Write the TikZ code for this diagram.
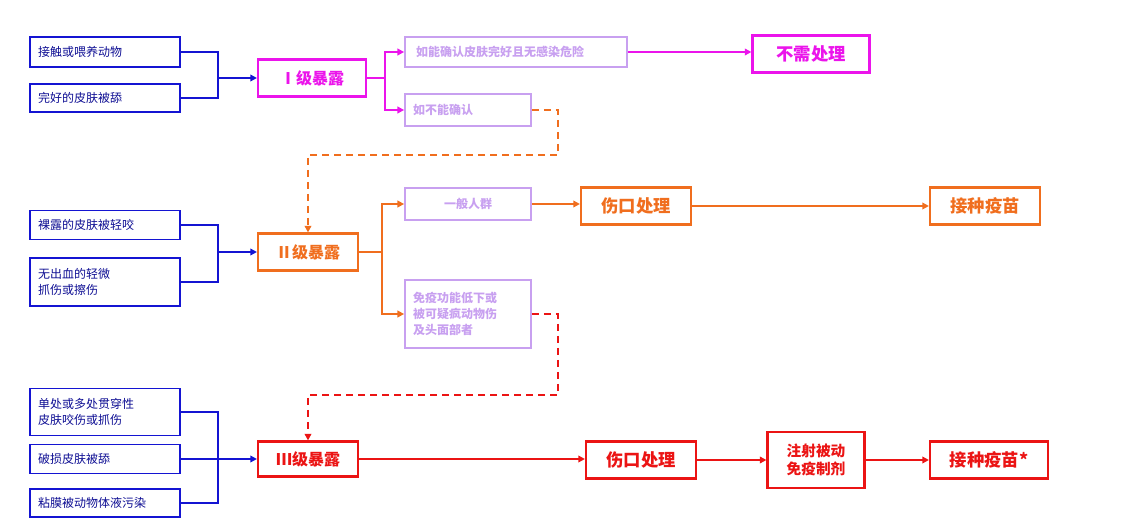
\documentclass[tikz,border=0pt]{standalone}
\usepackage{fontspec}
\setmainfont{Noto Sans CJK SC}
\usetikzlibrary{arrows.meta, positioning}
\definecolor{cblue}{RGB}{20,20,210}
\definecolor{cmag}{RGB}{235,20,235}
\definecolor{corange}{RGB}{240,110,30}
\definecolor{cred}{RGB}{235,20,20}
\definecolor{cpurple}{RGB}{200,160,240}
\tikzset{
  cause/.style={draw=cblue, line width=1.3pt, text=cblue!70!black, font=\fontsize{9}{12}\selectfont,
    align=left, text width=134*0.75pt, inner sep=0pt, minimum width=150*0.75pt},
  level/.style={draw=#1, line width=1.6pt, text=#1, font=\fontsize{12}{14}\selectfont\bfseries,
    minimum height=37*0.75pt, inner sep=2pt},
  cond/.style={draw=cpurple, line width=1.3pt, text=cpurple, font=\fontsize{9}{12}\selectfont\bfseries,
    align=left, inner sep=0pt},
  step/.style={draw=#1, line width=1.6pt, text=#1, font=\fontsize{13}{16}\selectfont\bfseries,
    minimum height=37*0.75pt, minimum width=110*0.75pt, align=center, inner sep=1pt},
  link/.style={draw=#1, line width=1.3pt, -{Triangle[length=5pt,width=5pt]}},
  plain/.style={draw=#1, line width=1.3pt},
  jump/.style={draw=#1, line width=1.3pt, dashed, dash pattern=on 5pt off 4pt, -{Triangle[length=5pt,width=5pt]}}
}
\begin{document}
\begin{tikzpicture}[x=0.75pt, y=-0.75pt]
\useasboundingbox (0,0) rectangle (1136,528);
% causes
\node[cause, minimum height=30*0.75pt] (a1) at (105,52) {接触或喂养动物};
\node[cause, minimum height=28*0.75pt] (a2) at (105,98) {完好的皮肤被舔};
\node[cause, minimum height=29*0.75pt] (b1) at (105,225) {裸露的皮肤被轻咬};
\node[cause, minimum height=48*0.75pt] (b2) at (105,282) {无出血的轻微\\抓伤或擦伤};
\node[cause, minimum height=47*0.75pt] (c1) at (105,412) {单处或多处贯穿性\\皮肤咬伤或抓伤};
\node[cause, minimum height=29*0.75pt] (c2) at (105,459) {破损皮肤被舔};
\node[cause, minimum height=28*0.75pt] (c3) at (105,503) {粘膜被动物体液污染};
% levels
\node[level=cmag, minimum width=108*0.75pt] (l1) at (312,78) {Ⅰ级暴露};
\node[level=corange, minimum width=100*0.75pt] (l2) at (308,252) {Ⅱ级暴露};
\node[level=cred, minimum width=100*0.75pt, minimum height=35*0.75pt] (l3) at (308,459) {Ⅲ级暴露};
% conditions
\node[cond, minimum width=222*0.75pt, minimum height=30*0.75pt, text width=200*0.75pt] (p1) at (516,52) {如能确认皮肤完好且无感染危险};
\node[cond, minimum width=126*0.75pt, minimum height=32*0.75pt, text width=110*0.75pt] (p2) at (468,110) {如不能确认};
\node[cond, minimum width=126*0.75pt, minimum height=32*0.75pt, align=center, text width=110*0.75pt] (p3) at (468,204) {一般人群};
\node[cond, minimum width=126*0.75pt, minimum height=68*0.75pt, text width=110*0.75pt] (p4) at (468,314) {免疫功能低下或\\被可疑疯动物伤\\及头面部者};
% outcomes
\node[step=cmag, minimum width=117*0.75pt] (n1) at (811,54) {不需处理};
\node[step=corange] (w1) at (636,206) {伤口处理};
\node[step=corange] (v1) at (985,206) {接种疫苗};
\node[step=cred] (w2) at (641,460) {伤口处理};
\node[step=cred, minimum width=97*0.75pt, minimum height=56*0.75pt, font=\fontsize{11}{14}\selectfont\bfseries] (ij) at (816,460) {注射被动\\免疫制剂};
\node[step=cred, minimum width=118*0.75pt] (v2) at (989,460) {接种疫苗*};
% brackets on the left
\draw[plain=cblue] (a1.east) -| (218,78) |- (a2.east);
\draw[plain=cblue] (b1.east) -| (218,252) |- (b2.east);
\draw[plain=cblue] (c1.east) -| (218,459) |- (c3.east);
\draw[plain=cblue] (c2.east) -- (218,459);
\draw[link=cblue] (218,78) -- (l1.west);
\draw[link=cblue] (218,252) -- (l2.west);
\draw[link=cblue] (218,459) -- (l3.west);
% branches
\draw[plain=cmag] (l1.east) -- (385,78);
\draw[link=cmag] (385,78) |- (p1.west);
\draw[link=cmag] (385,78) |- (p2.west);
\draw[link=cmag] (p1.east) -- (n1.west |- p1.east);
\draw[plain=corange] (l2.east) -- (382,252);
\draw[link=corange] (382,252) |- (p3.west);
\draw[link=corange] (382,252) |- (p4.west);
\draw[link=corange] (p3.east) -- (w1.west |- p3.east);
\draw[link=corange] (w1.east) -- (v1.west);
\draw[link=cred] (l3.east) -- (w2.west |- l3.east);
\draw[link=cred] (w2.east) -- (ij.west);
\draw[link=cred] (ij.east) -- (v2.west);
% jumps
\draw[jump=corange] (p2.east) -- (558,110) -- (558,155) -- (308,155) -- (l2.north);
\draw[jump=cred] (p4.east) -- (558,314) -- (558,395) -- (308,395) -- (l3.north);
\end{tikzpicture}
\end{document}
